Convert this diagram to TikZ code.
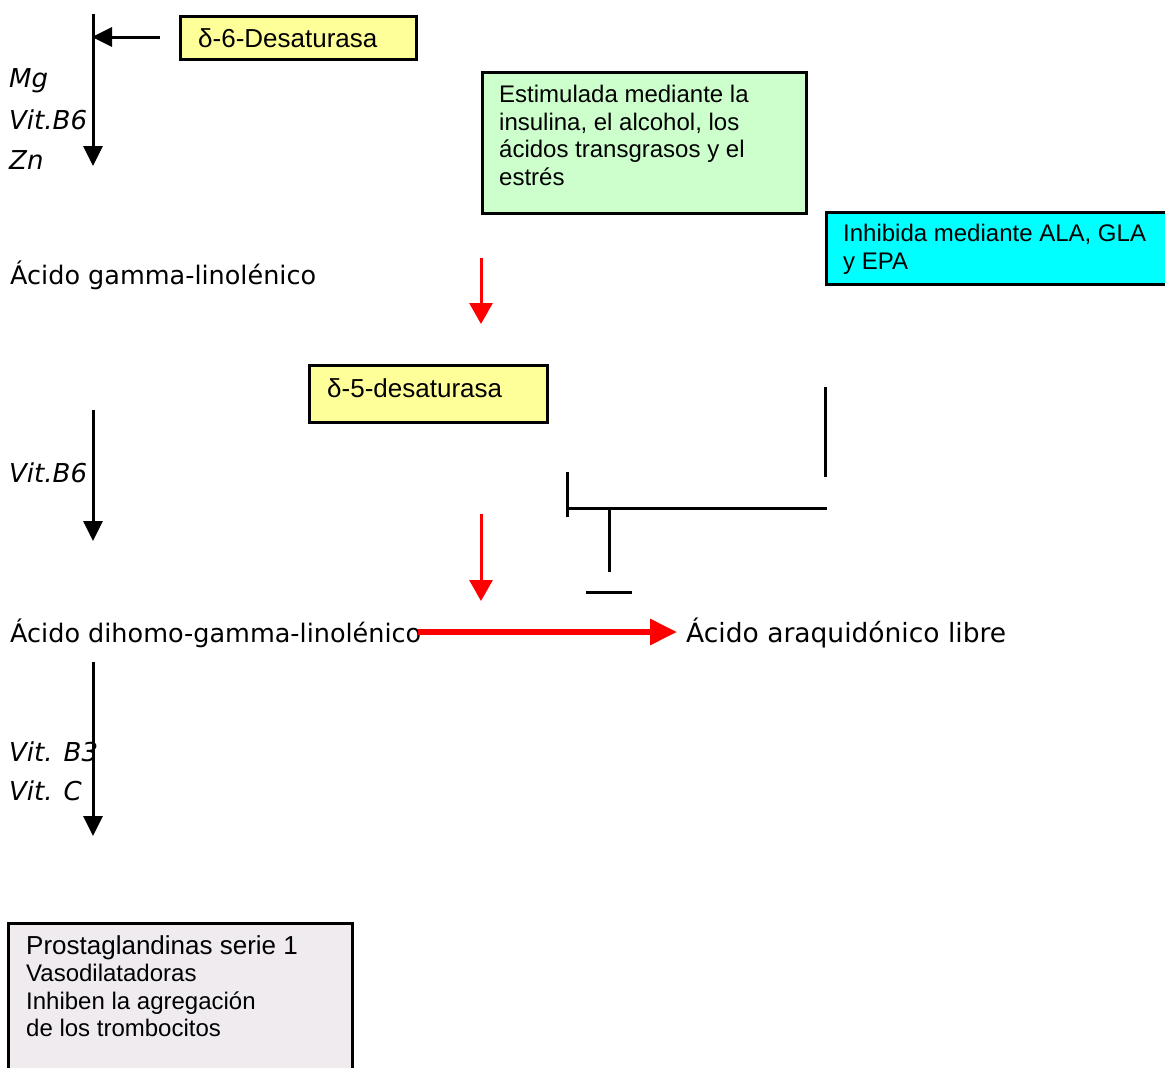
\documentclass[tikz,border=0pt]{standalone}
\usepackage{fontspec}
\setmainfont{Liberation Sans}
\newfontfamily\comicfont{DejaVu Sans}
\usetikzlibrary{arrows.meta}
\definecolor{yel}{HTML}{FFFF99}
\definecolor{grn}{HTML}{CCFFCC}
\definecolor{cyn}{HTML}{00FFFF}
\definecolor{gry}{HTML}{EFEBEF}
\begin{document}
\begin{tikzpicture}[x=1pt,y=-1pt,
  box/.style={draw=black,line width=3pt,anchor=north west,inner sep=0pt},
  boxtext/.style={anchor=north west,inner sep=0pt,align=left,font=\fontsize{24}{27.5}\selectfont},
  onetext/.style={anchor=base west,inner sep=0pt,font=\fontsize{26}{28}\selectfont},
  chem/.style={anchor=west,inner sep=0pt,font=\comicfont\fontsize{25.5}{30}\selectfont},
  cof/.style={anchor=west,inner sep=0pt,font=\comicfont\itshape\fontsize{26}{30}\selectfont},
  blk/.style={line width=3pt,-{Triangle[width=19pt,length=20pt]}},
  redarr/.style={red,line width=3pt,-{Triangle[width=23pt,length=21pt]}},
  redthick/.style={red,line width=6pt,-{Triangle[width=25pt,length=27pt]}},
  inh/.style={line width=3pt}]
\useasboundingbox (0,0) rectangle (1165,1068);
\fill[white] (0,0) rectangle (1165,1068);

% boxes
\node[box,fill=yel,minimum width=236pt,minimum height=43pt] (d6) at (179,15) {};
\node[onetext] (d6t) at (198,47) {δ-6-Desaturasa};

\node[box,fill=grn,minimum width=324pt,minimum height=141pt] (stim) at (481,71) {};
\node[boxtext] (stimt) at (499,85) {Estimulada mediante la\\insulina, el alcohol, los\\ácidos transgrasos y el\\estrés};

\node[box,fill=cyn,minimum width=360pt,minimum height=72pt] (inhb) at (825,211) {};
\node[boxtext] (inhbt) at (843,224) {Inhibida mediante ALA, GLA\\y EPA};

\node[box,fill=yel,minimum width=238pt,minimum height=57pt] (d5) at (308,364) {};
\node[onetext] (d5t) at (327,397) {δ-5-desaturasa};

\node[box,fill=gry,minimum width=344pt,minimum height=170pt] (prost) at (7,922) {};
\node[boxtext] (prostt) at (26,935) {{\fontsize{26}{28}\selectfont Prostaglandinas serie 1}\\Vasodilatadoras\\Inhiben la agregación\\de los trombocitos};

% chemical names
\node[chem] (gla) at (10,275) {Ácido gamma-linolénico};
\node[chem] (dgla) at (10,633) {Ácido dihomo-gamma-linolénico};
\node[chem,font=\comicfont\fontsize{26.5}{30}\selectfont] (ara) at (686,633) {Ácido araquidónico libre};

% cofactors
\node[cof] (mg) at (9,81) {Mg};
\node[cof] (b6a) at (9,120) {Vit.B6};
\node[cof] (zn) at (9,160) {Zn};
\node[cof] (b6b) at (9,473) {Vit.B6};
\node[cof] (b3) at (9,752) {Vit. B3};
\node[cof] (vc) at (9,791) {Vit. C};

% coordinates
\coordinate (a1s) at (93,14);
\coordinate (a1e) at (93,166);
\coordinate (a0s) at (160,37);
\coordinate (a0e) at (92,37);
\coordinate (a2s) at (93,410);
\coordinate (a2e) at (93,541);
\coordinate (a3s) at (93,662);
\coordinate (a3e) at (93,836);
\coordinate (r1s) at (481,258);
\coordinate (r1e) at (481,324);
\coordinate (r2s) at (481,514);
\coordinate (r2e) at (481,601);
\coordinate (hs) at (418,632);
\coordinate (he) at (677,632);
\coordinate (i1) at (825,387);
\coordinate (i2) at (825,477);
\coordinate (i3) at (827,508);
\coordinate (i4) at (567,508);
\coordinate (t1) at (567,472);
\coordinate (t2) at (567,517);
\coordinate (v1) at (609,508);
\coordinate (v2) at (609,572);
\coordinate (b1) at (586,592);
\coordinate (b2) at (632,592);

% black arrows
\draw[blk] (a1s) -- (a1e);
\draw[blk] (a0s) -- (a0e);
\draw[blk] (a2s) -- (a2e);
\draw[blk] (a3s) -- (a3e);

% red arrows
\draw[redarr] (r1s) -- (r1e);
\draw[redarr] (r2s) -- (r2e);
\draw[redthick] (hs) -- (he);

% inhibition lines
\draw[inh] (i1) -- (i2);
\draw[inh] (i3) -- (i4);
\draw[inh] (t1) -- (t2);
\draw[inh] (v1) -- (v2);
\draw[inh] (b1) -- (b2);
\end{tikzpicture}
\end{document}
